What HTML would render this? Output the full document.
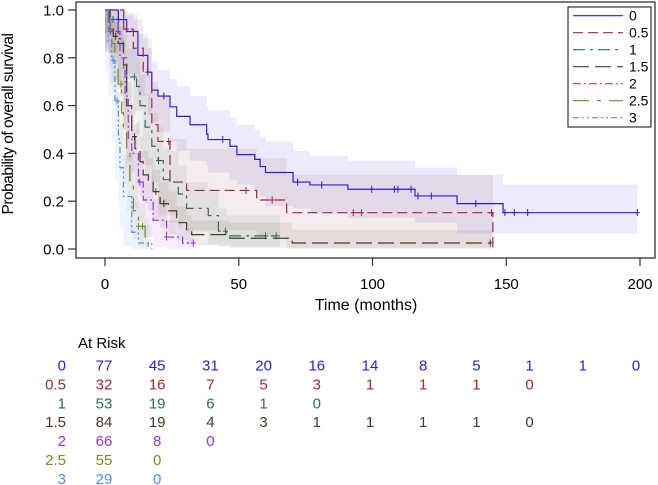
<!DOCTYPE html>
<html><head><meta charset="utf-8"><style>
body{margin:0;background:#fff;}
svg{display:block;font-family:"Liberation Sans",Arial,sans-serif;}
</style></head><body>
<svg id="chart" width="658" height="485" viewBox="0 0 658 485">
<g id="bands"></g>
<g id="curves"></g>
<rect x="76" y="2" width="579" height="256" fill="none" stroke="#333" stroke-width="1.3"/>
<g id="axes"></g>
<text x="13" y="124" transform="rotate(-90 13 124)" text-anchor="middle" font-size="15.5" letter-spacing="-0.5" fill="#000">Probability of overall survival</text>
<text x="366" y="310" text-anchor="middle" font-size="16" fill="#000">Time (months)</text>
<g>
<rect x="568" y="7" width="83" height="120" fill="#fff" stroke="#333" stroke-width="1.2"/>
<g id="legend"></g>
</g>
<text x="78" y="348" font-size="15" fill="#000">At Risk</text>
<g id="risk"></g>
</svg>
<script>
const groupNames = ["0","0.5","1","1.5","2","2.5","3"];
const colors = ["#2a1fd6","#a0283a","#2f6b5a","#4a3a22","#9a30e0","#7a8a20","#4d8ef0"];
const dashes = ["", "10,5", "12,5,3,5", "16,6", "8,3,2,3", "16,8,4,8", "6,3,2,3,2,3"];
const xTicks = [0,50,100,150,200];
const yTicks = [0,0.2,0.4,0.6,0.8,1.0];
const yTickLabels = ["0.0","0.2","0.4","0.6","0.8","1.0"];

// step times and survival values per group (value holds from that time onward)
const t0 = [0,5,8.1,12.3,16,17.5,19.8,24.3,26.8,31.8,38,38.5,46.7,49.3,56,58,60,70.3,76.6,90.8,115.9,131.6,148.8,199];
const s0 = [1,0.96,0.91,0.81,0.74,0.665,0.64,0.595,0.555,0.52,0.48,0.458,0.43,0.395,0.375,0.345,0.32,0.28,0.268,0.25,0.222,0.19,0.152,0.152];
const t1 = [0,7,10.6,14.3,17.5,19.8,24.3,30.5,56.7,67.9,145];
const s1 = [1,0.92,0.84,0.74,0.52,0.45,0.28,0.245,0.205,0.152,0];
const t2 = [0,2,4.9,6.9,8.1,11.8,13.1,15,17.5,19.9,21.8,24.3,27.4,30.5,38.6,42.4,45.5,65.4];
const s2 = [1,0.96,0.88,0.8,0.72,0.68,0.6,0.51,0.43,0.37,0.29,0.28,0.23,0.17,0.14,0.075,0.055,0.055];
const t3 = [0,1.5,3.1,4.9,6.9,8.1,10,11.2,13.1,14.3,16.2,18,20.6,23.7,26.8,30.5,32.4,46.7,70,144.5];
const s3 = [1,0.92,0.89,0.86,0.77,0.6,0.47,0.42,0.365,0.31,0.28,0.24,0.19,0.16,0.11,0.08,0.06,0.045,0.025,0.025];
const t4 = [0,1.9,5.6,6.9,7.5,8.7,10,12.5,14.3,18,23,29,33];
const s4 = [1,0.91,0.8,0.75,0.64,0.46,0.4,0.28,0.205,0.12,0.05,0.025,0.025];
const t5 = [0,1.2,2.5,3.7,4.9,6.2,6.9,8.1,9.3,10.6,12.5,15,16.2];
const s5 = [1,0.92,0.86,0.77,0.69,0.57,0.5,0.4,0.27,0.16,0.095,0.05,0];
const t6 = [0,1.2,2.5,3.7,5,5.6,6.9,10,12.5,17.5];
const s6 = [1,0.87,0.79,0.62,0.46,0.34,0.22,0.07,0.025,0];
// confidence band bounds (same step times)
const lo0 = [1,0.9,0.85,0.73,0.64,0.56,0.53,0.49,0.45,0.41,0.37,0.35,0.32,0.29,0.27,0.24,0.22,0.18,0.17,0.15,0.13,0.11,0.065,0.065];
const hi0 = [1,1,0.98,0.9,0.84,0.78,0.75,0.71,0.68,0.64,0.6,0.58,0.55,0.52,0.5,0.47,0.45,0.41,0.39,0.37,0.34,0.31,0.27,0.27];
const lo1 = [1,0.82,0.71,0.58,0.35,0.28,0.14,0.11,0.08,0.05,0];
const hi1 = [1,0.99,0.96,0.88,0.7,0.64,0.46,0.42,0.38,0.31,0];
const lo2 = [1,0.9,0.8,0.7,0.6,0.56,0.48,0.38,0.31,0.26,0.19,0.18,0.14,0.09,0.07,0.02,0.01,0.01];
const hi2 = [1,1,0.96,0.9,0.84,0.8,0.73,0.65,0.57,0.51,0.42,0.41,0.35,0.28,0.24,0.17,0.14,0.14];
const lo3 = [1,0.86,0.82,0.78,0.68,0.5,0.37,0.32,0.27,0.22,0.19,0.16,0.12,0.09,0.06,0.035,0.02,0.015,0.005,0.005];
const hi3 = [1,0.97,0.95,0.93,0.86,0.7,0.58,0.53,0.47,0.41,0.38,0.33,0.28,0.24,0.18,0.14,0.12,0.11,0.08,0.08];
const lo4 = [1,0.83,0.7,0.64,0.52,0.34,0.28,0.17,0.11,0.05,0.01,0,0];
const hi4 = [1,0.97,0.89,0.85,0.75,0.58,0.52,0.4,0.31,0.21,0.12,0.09,0.09];
const lo5 = [1,0.84,0.76,0.66,0.57,0.44,0.37,0.27,0.16,0.08,0.04,0.01,0];
const hi5 = [1,0.98,0.94,0.87,0.8,0.7,0.63,0.53,0.4,0.27,0.19,0.13,0];
const lo6 = [1,0.74,0.64,0.45,0.29,0.18,0.09,0.01,0,0];
const hi6 = [1,0.97,0.92,0.79,0.65,0.52,0.39,0.2,0.1,0];
// censoring marks
const c0 = [5,7,16,22,44,72,81,99.7,108.2,109.5,114.4,117,122,138.6,149.5,153,158,199];
const c1 = [8,23.8,52.7,62.5,92.8,95.9,144.5];
const c2 = [3,11,20,45,60,64];
const c3 = [4,11,19,22,144];
const c4 = [2,13,23,33];
const c5 = [2,6,12.5,14];
const c6 = [3,4.5];

const riskTimes = [0,20,40,60,80,100,120,140,160,180,200];
const risk0 = [77,45,31,20,16,14,8,5,1,1,0];
const risk1 = [32,16,7,5,3,1,1,1,0];
const risk2 = [53,19,6,1,0];
const risk3 = [84,19,4,3,1,1,1,1,0];
const risk4 = [66,8,0];
const risk5 = [55,0];
const risk6 = [29,0];

const T=[t0,t1,t2,t3,t4,t5,t6], S=[s0,s1,s2,s3,s4,s5,s6], LO=[lo0,lo1,lo2,lo3,lo4,lo5,lo6], HI=[hi0,hi1,hi2,hi3,hi4,hi5,hi6], C=[c0,c1,c2,c3,c4,c5,c6], R=[risk0,risk1,risk2,risk3,risk4,risk5,risk6];
const NS="http://www.w3.org/2000/svg";
const xS = t => 105 + t*2.675;
const yS = s => 249 - s*239;
function mk(tag, attrs, parent){const e=document.createElementNS(NS,tag);for(const k in attrs)e.setAttribute(k,attrs[k]);parent.appendChild(e);return e;}
function stepPath(t,s){let d="M"+xS(t[0])+","+yS(s[0]);for(let i=1;i<t.length;i++){d+="H"+xS(t[i])+"V"+yS(s[i]);}return d;}
function stepAt(t,s,x){let v=s[0];for(let i=0;i<t.length;i++){if(t[i]<=x)v=s[i];}return v;}

const bands=document.getElementById('bands'), curves=document.getElementById('curves'), axes=document.getElementById('axes'), legend=document.getElementById('legend'), risk=document.getElementById('risk');
for(let g=0; g<7; g++){
  const t=T[g];
  let d="M"+xS(t[0])+","+yS(HI[g][0]);
  for(let i=1;i<t.length;i++) d+="H"+xS(t[i])+"V"+yS(HI[g][i]);
  d+="V"+yS(LO[g][t.length-1]);
  for(let i=t.length-1;i>0;i--) d+="V"+yS(LO[g][i])+"H"+xS(t[i-1]);
  d+="Z";
  const b=mk('path',{d:d,fill:colors[g],'fill-opacity':0.09,stroke:'none'},bands);
  
  
  const p=mk('path',{d:stepPath(t,S[g]),fill:'none',stroke:colors[g],'stroke-width':1.2,'stroke-dasharray':dashes[g]},curves);
  
  
  C[g].forEach(ct=>{
    const y=yS(stepAt(t,S[g],ct)), x=xS(ct);
    const m=mk('path',{d:`M${x},${y-3.5}V${y+3.5}M${x-2.5},${y}H${x+2.5}`,stroke:colors[g],'stroke-width':1},curves);
    
    
  });
  const ly=15.7+g*17;
  const ll=mk('line',{x1:573,x2:623,y1:ly,y2:ly,stroke:colors[g],'stroke-width':1.2,'stroke-dasharray':dashes[g]},legend);
  
  
  const lt=mk('text',{x:629,y:ly+5,'font-size':14,fill:'#000'},legend);
  lt.textContent=groupNames[g];
  
  
  const ry=370.5+g*18.9;
  const rl=mk('text',{x:66,y:ry,'font-size':15,fill:colors[g],'text-anchor':'end'},risk);
  rl.textContent=groupNames[g];
  
  
  R[g].forEach((v,i)=>{
    const rt=mk('text',{x:104+i*53.2,y:ry,'font-size':15,fill:colors[g],'text-anchor':'middle'},risk);
    rt.textContent=v;
    
    
  });
}
xTicks.forEach(v=>{
  const l=mk('line',{x1:xS(v),x2:xS(v),y1:258,y2:266,stroke:'#333','stroke-width':1.2},axes);
  
  
  const tx=mk('text',{x:xS(v),y:289,'font-size':15,'text-anchor':'middle',fill:'#000'},axes);
  tx.textContent=v;
  
  
});
yTicks.forEach((v,i)=>{
  const l=mk('line',{x1:68,x2:76,y1:yS(v),y2:yS(v),stroke:'#333','stroke-width':1.2},axes);
  
  
  const tx=mk('text',{x:64,y:yS(v)+5.5,'font-size':15,'text-anchor':'end',fill:'#000'},axes);
  tx.textContent=yTickLabels[i];
  
  
});
</script>
</body></html>
